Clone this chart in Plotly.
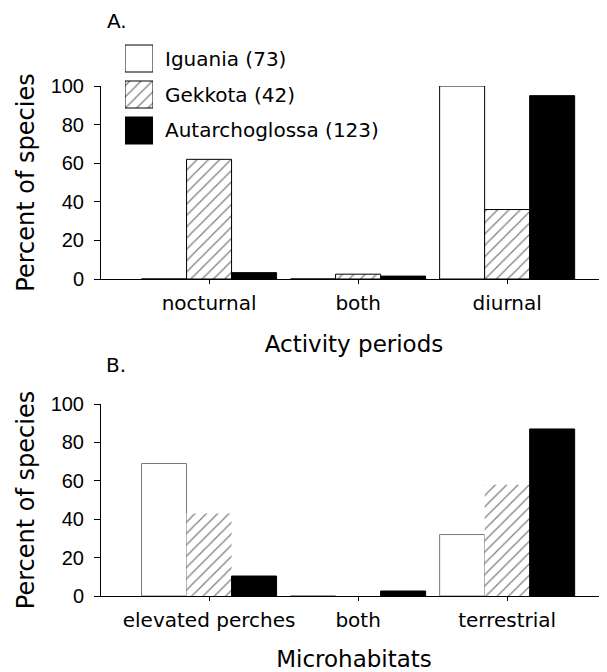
import plotly.graph_objects as go

# ---------------- data ----------------
series_names = ["Iguania (73)", "Gekkota (42)", "Autarchoglossa (123)"]

activity_cats = ["nocturnal", "both", "diurnal"]
iguania_activity = [0, 0, 100]
gekkota_activity = [62, 2.5, 36]
autarch_activity = [3.3, 1.5, 95]

habitat_cats = ["elevated perches", "both", "terrestrial"]
iguania_habitat = [69, 0, 32]
gekkota_habitat = [43, 0, 58]
autarch_habitat = [10.4, 2.6, 87]

y_ticks = [0, 20, 40, 60, 80, 100]

# ---------------- layout helpers ----------------
# page body has an 8px margin, so the figure is placed at (8, 8) in the window
OFF = 8
W, H = 607 - OFF, 672 - OFF
L, R, T = 101 - OFF, 0, 30 - OFF
PB = 596 - OFF          # bottom of plot area in figure pixels
B = H - PB
PW, PH = W - L - R, H - T - B


def px(x):
    """screen x -> paper fraction"""
    return (x - OFF - L) / PW


def py(y):
    """screen y -> paper fraction"""
    return (PB - (y - OFF)) / PH


TXT = "DejaVu Sans"
NUM = "Liberation Sans"

hatch = dict(shape="/", fgcolor="black", bgcolor="white", size=8, solidity=0.16)
styles = [
    dict(color="white", line=dict(color="black", width=1)),
    dict(color="white", line=dict(color="black", width=1), pattern=hatch),
    dict(color="black", line=dict(color="black", width=1)),
]
styles_b = [
    dict(color="white", line=dict(color="#777777", width=1)),
    dict(color="white", line=dict(color="white", width=0), pattern=hatch),
    dict(color="black", line=dict(color="black", width=1)),
]

fig = go.Figure()

top_vals = [iguania_activity, gekkota_activity, autarch_activity]
bot_vals = [iguania_habitat, gekkota_habitat, autarch_habitat]

for name, vals, st in zip(series_names, top_vals, styles):
    fig.add_trace(go.Bar(x=activity_cats, y=vals, name=name, marker=st,
                         xaxis="x", yaxis="y", showlegend=False, cliponaxis=False))
for name, vals, st in zip(series_names, bot_vals, styles_b):
    fig.add_trace(go.Bar(x=habitat_cats, y=vals, name=name, marker=st,
                         xaxis="x2", yaxis="y2", showlegend=False, cliponaxis=False))

# custom legend swatches (own small axes)
for i, (name, st) in enumerate(zip(series_names, styles)):
    fig.add_trace(go.Bar(x=[1], y=[i], base=0, orientation="h", width=0.75,
                         marker=st, xaxis="x3", yaxis="y3", showlegend=False,
                         cliponaxis=False, hoverinfo="skip"))

common_y = dict(range=[0, 100], tickvals=y_ticks, showline=True, linecolor="black",
                linewidth=1, ticks="outside", ticklen=6, tickcolor="black",
                showgrid=False, zeroline=False, ticklabelstandoff=6,
                tickfont=dict(family=NUM, size=20, color="black"),
                title=dict(text="Percent of species",
                           font=dict(family=TXT, size=24, color="black"), standoff=9))
common_x = dict(range=[-0.725, 2.67], showline=True, linecolor="black", linewidth=1,
                ticks="outside", ticklen=4, tickcolor="black", showgrid=False,
                ticklabelstandoff=2,
                tickfont=dict(family=TXT, size=20, color="black"))

fig.update_layout(
    width=W, height=H,
    margin=dict(l=L, r=R, t=T, b=B),
    paper_bgcolor="white", plot_bgcolor="white",
    barmode="group", bargap=0.094, bargroupgap=0,
    xaxis=dict(**common_x, anchor="y",
               title=dict(text="Activity periods",
                          font=dict(family=TXT, size=23, color="black"), standoff=21)),
    yaxis=dict(**common_y, domain=[py(279), py(86)], anchor="x"),
    xaxis2=dict(**common_x, anchor="y2",
                title=dict(text="Microhabitats",
                           font=dict(family=TXT, size=23, color="black"), standoff=20)),
    yaxis2=dict(**common_y, domain=[0, py(404)], anchor="x2"),
    xaxis3=dict(domain=[px(125), px(153)], range=[0, 1], anchor="y3", visible=False),
    yaxis3=dict(domain=[py(148.5), py(40.5)], range=[2.5, -0.5], anchor="x3", visible=False),
    showlegend=False,
)

ann = [
    dict(text="A.", x=px(105), y=py(21), xanchor="left", yanchor="middle"),
    dict(text="B.", x=px(104), y=py(365), xanchor="left", yanchor="middle"),
]
centers = [58.5, 94.5, 130]
for name, cy in zip(series_names, centers):
    ann.append(dict(text=name, x=px(163), y=py(cy), xanchor="left", yanchor="middle"))

for a in ann:
    fig.add_annotation(xref="paper", yref="paper", showarrow=False,
                       font=dict(family=TXT, size=20, color="black"), **a)

fig.write_html("out.html")
